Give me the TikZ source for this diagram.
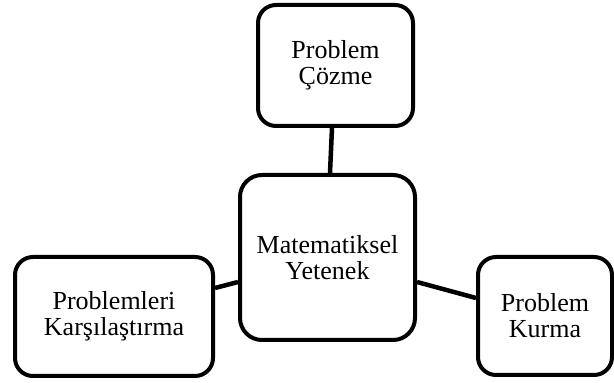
\documentclass[tikz,border=0pt]{standalone}
\usepackage{fontspec}
\setmainfont{Liberation Serif}
\usetikzlibrary{calc}
\begin{document}
\begin{tikzpicture}[x=1pt,y=1pt,
  box/.style={draw=black, line width=4pt, fill=white, rounded corners=18pt,
    inner sep=0pt, align=center, font=\fontsize{26}{26}\selectfont},
  link/.style={draw=black, line width=4.5pt}]
\useasboundingbox (0,0) rectangle (614,383);
% image y -> 383 - y
\node[box, minimum width=155pt, minimum height=121pt] (top) at (335.5,317.5) {Problem\\Çözme};
\node[box, rounded corners=22pt, minimum width=175pt, minimum height=165pt] (ctr) at (327.5,125.5) {Matematiksel\\Yetenek};
\node[box, minimum width=198pt, minimum height=119pt] (lft) at (114,66.5) {Problemleri\\Karşılaştırma};
\node[box, minimum width=134pt, minimum height=118pt] (rgt) at (545,67) {Problem\\Kurma};
\draw[link] ($(top.south)+(-3.5,0)$) -- ($(ctr.north)+(2.5,0)$);
\draw[link] ($(lft.east)+(0,28.5)$) -- ($(ctr.west)+(0,-24.5)$);
\draw[link] ($(ctr.east)+(0,-24.5)$) -- ($(rgt.west)+(0,18)$);
\end{tikzpicture}
\end{document}
